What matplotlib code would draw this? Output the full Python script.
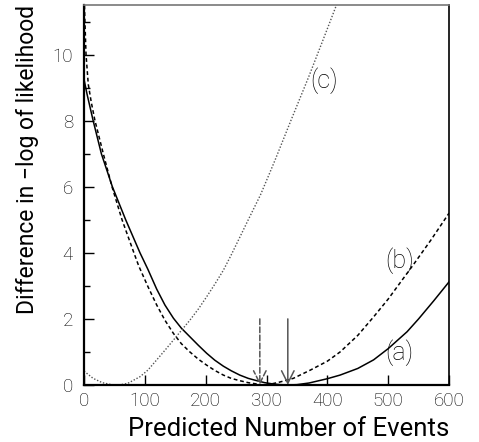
import matplotlib
matplotlib.use("Agg")
import matplotlib.pyplot as plt
from matplotlib.ticker import MultipleLocator

plt.rcParams['font.family'] = ['Roboto', 'DejaVu Sans']
plt.rcParams['font.weight'] = 'light'

# curve (a): solid
xa = [0, 5, 15, 28.5, 46.6, 68.5, 92, 105, 119.5, 133, 147, 160, 174, 188, 201.6,
      215, 229, 242, 256, 270, 284, 297, 311, 323, 335,
      350, 370, 400, 421, 450, 476, 500, 531, 550, 575, 600]
ya = [9.25, 8.8, 8.0, 7.0, 6.0, 5.0, 4.0, 3.5, 2.9, 2.42, 2.02, 1.72, 1.46, 1.2, 0.96,
      0.75, 0.57, 0.43, 0.30, 0.2, 0.13, 0.07, 0.03, 0.01, 0.0,
      0.01, 0.06, 0.19, 0.3, 0.5, 0.76, 1.1, 1.61, 2.0, 2.55, 3.12]

# curve (b): dashed
xb = [0, 1.5, 3.3, 7, 12, 18, 31.7, 46, 62.5, 82, 90, 105, 119.5, 133, 147, 160, 174,
      188, 201.6, 215, 229, 242, 256, 270, 284, 290,
      305, 320, 344, 372, 400, 421, 450, 476, 500, 541, 570, 600]
yb = [12.0, 11.0, 10.0, 9.1, 8.55, 8.0, 7.0, 6.0, 5.0, 4.0, 3.6, 2.98, 2.42, 1.96, 1.56, 1.25, 1.0,
      0.78, 0.60, 0.44, 0.30, 0.2, 0.13, 0.07, 0.03, 0.0,
      0.02, 0.08, 0.2, 0.45, 0.72, 1.0, 1.5, 2.06, 2.6, 3.63, 4.38, 5.2]

# curve (c): dotted
xc = [0, 15, 30, 45, 58, 72, 92, 105, 119.5, 133, 147, 160, 174, 188, 201.6, 215, 229,
      241, 253.7, 270, 290, 306, 315, 340, 369, 392, 415]
yc = [0.42, 0.2, 0.07, 0.01, 0.0, 0.05, 0.25, 0.45, 0.76, 1.05, 1.36, 1.65, 1.96, 2.3, 2.67,
      3.05, 3.47, 3.9, 4.38, 5.0, 5.75, 6.45, 6.85, 8.0, 9.31, 10.4, 11.5]

# minimum markers (arrows)
arrow_x = [289, 335]
arrow_style = ['--', '-']
arrow_top = 2.0

labels = ["(a)", "(b)", "(c)"]
label_pos = [(518, 0.97), (518, 3.75), (395, 9.2)]

fig = plt.figure(figsize=(4.79, 4.42), dpi=100)
ax = fig.add_axes([0.1754, 0.129, 0.762, 0.8597])

ax.plot(xa, ya, color='black', lw=1.1)
ax.plot(xb, yb, color='black', lw=1.1, linestyle=(0, (2.5, 1.8)))
ax.plot(xc, yc, color='#555555', lw=1.0, linestyle=(0, (1, 1.3)))

for x, ls in zip(arrow_x, arrow_style):
    ax.annotate('', xy=(x, 0), xytext=(x, arrow_top),
                arrowprops=dict(arrowstyle='->,head_length=0.9,head_width=0.45',
                                color='#555555', lw=1.1, linestyle=ls,
                                shrinkA=0, shrinkB=0))

for t, (x, y) in zip(labels, label_pos):
    ax.text(x, y, t, fontsize=18, ha='center', va='center')

ax.set_xlim(0, 600)
ax.set_ylim(0, 11.5)
ax.xaxis.set_major_locator(MultipleLocator(100))
ax.yaxis.set_major_locator(MultipleLocator(2))
ax.yaxis.set_minor_locator(MultipleLocator(1))
ax.tick_params(which='major', direction='in', length=7, width=1, labelsize=13.5,
               labelcolor='black', pad=5)
ax.tick_params(which='minor', direction='in', length=4, width=1)
ax.tick_params(axis='y', pad=8)

for s in ['left', 'bottom']:
    ax.spines[s].set_linewidth(1.6)
ax.spines['right'].set_linewidth(1.2)
ax.spines['top'].set_color('#777777')
ax.spines['top'].set_linewidth(1.2)

ax.set_xlabel("Predicted Number of Events", fontsize=18.5, loc='right', labelpad=5)
ax.set_ylabel("Difference in \u2212log of likelihood", fontsize=16.5, loc='top', labelpad=10)

fig.savefig("out.png", dpi=100)
